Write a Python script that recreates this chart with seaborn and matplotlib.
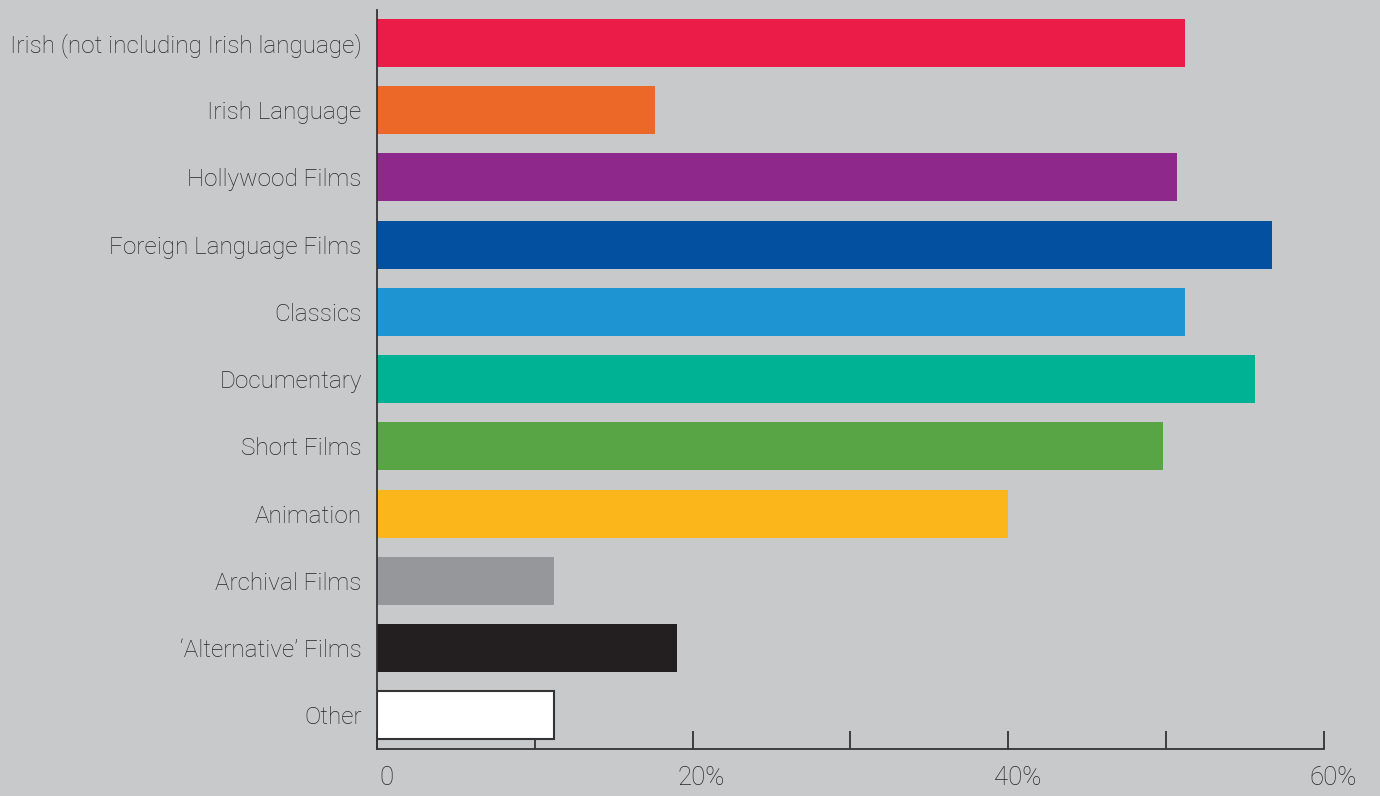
import matplotlib
matplotlib.use("Agg")
import matplotlib.pyplot as plt
import matplotlib.transforms as mtransforms
import seaborn as sns
import pandas as pd

categories = [
    "Irish (not including Irish language)",
    "Irish Language",
    "Hollywood Films",
    "Foreign Language Films",
    "Classics",
    "Documentary",
    "Short Films",
    "Animation",
    "Archival Films",
    "\u2018Alternative\u2019 Films",
    "Other",
]
values = [51.2, 17.6, 50.7, 56.7, 51.2, 55.6, 49.8, 40.0, 11.2, 19.0, 11.2]
colors = [
    "#ec1c48", "#ec6828", "#8e288b", "#0450a0", "#1e94d2", "#00b294",
    "#57a545", "#fab61a", "#96979a", "#231f20", "#ffffff",
]
tick_values = [0, 20, 40, 60]
tick_labels = ["0", "20%", "40%", "60%"]
minor_ticks = [10, 30, 50]

bg = "#c8c9cb"
ink = "#333333"
text_ink = "#262626"

sns.set_theme(style="white")
plt.rcParams["font.family"] = ["Roboto", "DejaVu Sans"]

df = pd.DataFrame({"category": categories, "value": values})

fig = plt.figure(figsize=(13.8, 7.96), dpi=100, facecolor=bg)
ax = fig.add_axes([0.2732, 0.059, 0.9594 - 0.2732, 0.9874 - 0.059])
ax.set_facecolor(bg)

sns.barplot(
    data=df, x="value", y="category", hue="category",
    palette=dict(zip(categories, colors)), order=categories,
    width=0.714, legend=False, ax=ax, saturation=1,
)

# white "Other" bar needs an outline to stand out
for patch, cat in zip(ax.patches, categories):
    if cat == "Other":
        patch.set_edgecolor(ink)
        patch.set_linewidth(1.5)
    else:
        patch.set_edgecolor("none")

ax.set_xlim(0, 60)
ax.set_ylim(10.5, -0.49)
ax.set_xlabel("")
ax.set_ylabel("")

ax.set_xticks(tick_values)
ax.set_xticklabels(tick_labels)
ax.set_xticks(minor_ticks, minor=True)
ax.tick_params(axis="x", which="both", direction="in", length=13,
               width=1.3, color=ink, pad=12, labelsize=18.5, labelcolor=text_ink,
               bottom=True)
ax.tick_params(axis="y", length=0, pad=11, labelsize=17.5, labelcolor=text_ink)

offset = mtransforms.ScaledTranslation(9 / 100, 0, fig.dpi_scale_trans)
for lbl in ax.get_xticklabels():
    lbl.set_fontweight("light")
    lbl.set_transform(lbl.get_transform() + offset)
for lbl in ax.get_yticklabels():
    lbl.set_fontweight("light")

for side in ["top", "right"]:
    ax.spines[side].set_visible(False)
for side in ["left", "bottom"]:
    ax.spines[side].set_color(ink)
    ax.spines[side].set_linewidth(1.3)

fig.savefig("out.png", dpi=100, facecolor=bg)
